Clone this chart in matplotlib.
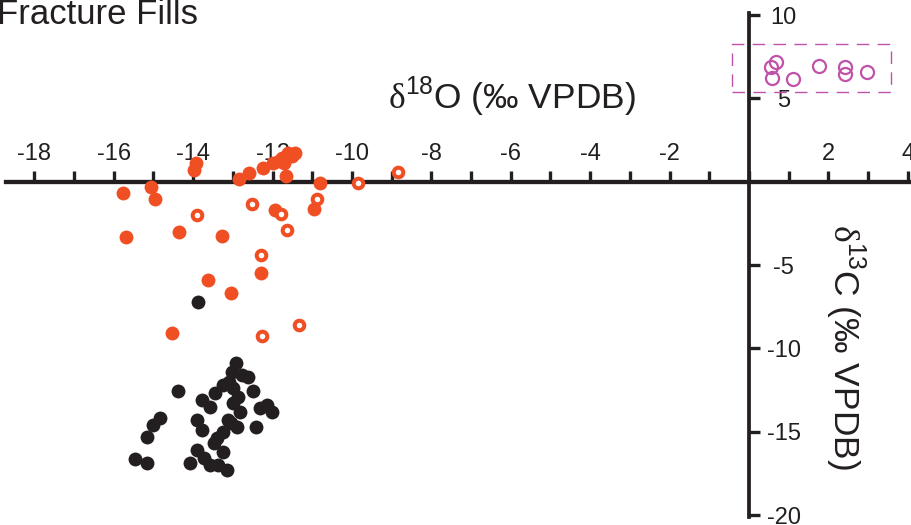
import matplotlib
matplotlib.use("Agg")
import matplotlib.pyplot as plt
from matplotlib.patches import Rectangle

plt.rcParams['font.family'] = ['Liberation Sans', 'DejaVu Sans']
plt.rcParams['axes.unicode_minus'] = False
plt.rcParams['mathtext.fontset'] = 'custom'
plt.rcParams['mathtext.rm'] = 'Liberation Serif'
plt.rcParams['mathtext.sf'] = 'Liberation Sans'

# ---------------- data ----------------
red_filled_x = [-13.93, -13.97, -12.84, -12.59, -12.23, -11.98, -11.77, -11.60, -11.44, -11.71,
                -11.65, -10.80, -15.76, -15.05, -14.96, -15.68, -14.35, -13.28, -11.95, -10.95,
                -12.30, -13.63, -13.06, -14.54, -11.85, -11.52]
red_filled_y = [1.14, 0.70, 0.14, 0.50, 0.80, 1.10, 1.40, 1.70, 1.74, 1.10,
                0.34, -0.05, -0.66, -0.30, -1.04, -3.30, -3.04, -3.24, -1.70, -1.66,
                -5.50, -5.90, -6.66, -9.10, 1.25, 1.55]

red_open_x = [-9.84, -8.85, -13.91, -12.51, -11.79, -10.89, -11.63, -12.29, -12.26, -11.33]
red_open_y = [-0.08, 0.56, -2.00, -1.32, -1.95, -1.06, -2.92, -4.40, -9.24, -8.58]

black_x = [-13.87,
           -12.92, -13.03, -12.78, -12.61, -13.24, -13.45, -12.99, -12.49, -13.79, -13.58,
           -12.99, -12.82, -12.32, -12.15, -12.02, -13.91, -13.79, -13.12, -12.90, -12.42,
           -13.24, -13.40, -13.48, -13.24, -13.91, -13.74, -14.08, -13.58, -13.37, -13.16,
           -14.37, -14.84, -15.02, -15.17, -15.47, -15.16, -13.10, -12.88, -13.05]
black_y = [-7.23,
           -10.86, -11.40, -11.60, -11.70, -12.20, -12.70, -12.40, -12.54, -13.10, -13.50,
           -13.30, -13.80, -13.59, -13.40, -13.80, -14.30, -14.90, -14.30, -14.73, -14.73,
           -15.00, -15.40, -15.70, -16.20, -16.10, -16.60, -16.90, -17.00, -17.00, -17.30,
           -12.54, -14.20, -14.60, -15.34, -16.65, -16.89, -12.00, -12.90, -14.50]

purple_x = [0.68, 0.55, 0.57, 1.10, 1.77, 2.42, 2.42, 2.96]
purple_y = [7.20, 6.86, 6.24, 6.14, 6.96, 6.90, 6.44, 6.60]

box_x0, box_x1 = -0.42, 3.57
box_y0, box_y1 = 5.36, 8.24

xtick_values = list(range(-18, 5))
xtick_labels = ['-18', '', '-16', '', '-14', '', '-12', '', '-10', '', '-8', '', '-6', '',
                '-4', '', '-2', '', '', '', '2', '', '4']
ytick_values = [-20, -15, -10, -5, 5, 10]
ytick_labels = ['-20', '-15', '-10', '-5', '5', '10']

title_text = 'Fracture Fills'
xlabel_text = r'$\mathrm{\delta}^{\mathsf{18}}$O (‰ VPDB)'
ylabel_text = r'$\mathrm{\delta}^{\mathsf{13}}$C (‰ VPDB)'

RED = '#F04E23'
BLACK = '#231F20'
PURPLE = '#C152A9'

# ---------------- figure ----------------
fig = plt.figure(figsize=(9.12, 5.25), dpi=100)
ax = fig.add_axes([0, 0, 1, 1])
ax.set_xlim(-18.866, 4.106)
ax.set_ylim(-20.59, 10.9)

for s in ['left', 'bottom']:
    ax.spines[s].set_visible(False)
ax.spines['top'].set_position(('data', 0))
ax.spines['top'].set_bounds(-18.72, 4.106)
ax.spines['top'].set_linewidth(3.1)
ax.spines['top'].set_color(BLACK)
ax.spines['right'].set_position(('data', 0))
ax.spines['right'].set_bounds(-20.1, 10.14)
ax.spines['right'].set_linewidth(2.7)
ax.spines['right'].set_color(BLACK)

ax.xaxis.tick_top()
ax.yaxis.tick_right()
ax.set_xticks(xtick_values)
ax.set_xticklabels(xtick_labels)
ax.set_yticks(ytick_values)
ax.set_yticklabels(ytick_labels)
ax.tick_params(axis='x', direction='out', length=8, width=2.4, color=BLACK,
               labelsize=17, pad=4, labelcolor=BLACK)
ax.tick_params(axis='y', direction='out', length=8, width=2.4, color=BLACK,
               labelsize=17, pad=17, labelcolor=BLACK)
for lab in ax.get_yticklabels():
    lab.set_horizontalalignment('center')

ax.add_patch(Rectangle((box_x0, box_y0), box_x1 - box_x0, box_y1 - box_y0, fill=False,
                       ec=PURPLE, lw=1.0, ls=(0, (9, 6)), zorder=2))

ax.plot(black_x, black_y, 'o', ms=10, mfc=BLACK, mec='none', zorder=3, clip_on=False)
ax.plot(red_filled_x, red_filled_y, 'o', ms=10, mfc=RED, mec='none', zorder=4, clip_on=False)
ax.plot(red_open_x, red_open_y, 'o', ms=6.9, mfc='white', mec=RED, mew=2.9, zorder=4, clip_on=False)
ax.plot(purple_x, purple_y, 'o', ms=9.4, mfc='none', mec=PURPLE, mew=1.6, zorder=4, clip_on=False)

ax.text(198 / 912, 1 - 24.3 / 525, title_text, transform=ax.transAxes, ha='right',
        va='baseline', fontsize=25, color=BLACK)
ax.text(-5.98, 5.11, xlabel_text, ha='center', va='center', fontsize=25.5, color=BLACK)
ax.text(2.42, -9.92, ylabel_text, ha='center', va='center', fontsize=25.5, rotation=-90,
        color=BLACK)

fig.savefig('out.png', dpi=100)
